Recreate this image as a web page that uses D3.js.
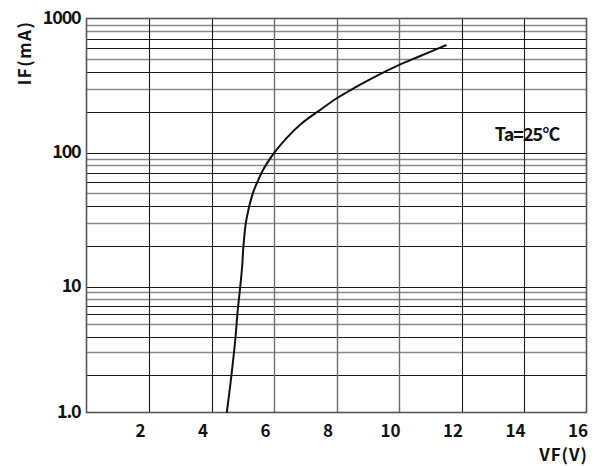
<!DOCTYPE html>
<html>
<head>
<meta charset="utf-8">
<script src="https://cdn.jsdelivr.net/npm/d3@7"></script>
<style>
  body { margin: 0; background: #fff; }
  text { font-family: "Noto Sans CJK SC", "Noto Sans", sans-serif; fill: #111; }
</style>
</head>
<body>
<div id="chart"></div>
<script>
  // forward voltage (V) vs forward current (mA)
  var vfValues = [4.49, 4.62, 4.76, 4.83, 4.92, 4.98, 5.02, 5.10, 5.18, 5.26, 5.37, 5.50, 5.64, 5.79, 6.03, 6.40, 6.89, 7.48, 8.01, 8.60, 9.30, 9.99, 10.68, 11.52];
  var ifValues = [1.0, 1.81, 3.76, 6.1, 10, 14, 19.8, 29.9, 37.2, 44.3, 53.3, 62.5, 73.4, 84, 101, 128, 165, 208, 254, 306, 375, 449, 525, 634];

  var vfTicks = [2, 4, 6, 8, 10, 12, 14, 16];
  var ifTicks = [1, 10, 100, 1000];
  var ifTickLabels = ["1.0", "10", "100", "1000"];
  var decades = [1, 10, 100];
  var mantissas = [2, 3, 4, 5, 6, 7, 8, 9];
  var grayMantissas = [3, 5, 8, 9];
  var grayVf = [6, 8, 10];

  var width = 603,
      height = 466;

  var svg = d3.select("#chart").append("svg")
      .attr("width", width)
      .attr("height", height);

  var x = d3.scaleLinear()
      .domain([0, 16])
      .range([86.5, 586.5]);

  // the printed decades are not quite equal, so map each one separately
  var y = d3.scaleLog()
      .domain([1, 10, 100, 1000])
      .range([412.5, 286.5, 152.5, 18.5]);

  var grid = svg.append("g").attr("class", "grid");

  var minor = [];
  decades.forEach(function(d) {
    mantissas.forEach(function(m) { minor.push({ v: d * m, gray: grayMantissas.indexOf(m) >= 0 }); });
  });

  grid.selectAll("line.h")
    .data(minor.concat(ifTicks.slice(1, 3).map(function(v) { return { v: v, gray: false }; })))
    .enter().append("line")
      .attr("class", "h")
      .attr("x1", x(0))
      .attr("x2", x(16))
      .attr("y1", function(d) { return Math.round(y(d.v)) + 0.5; })
      .attr("y2", function(d) { return Math.round(y(d.v)) + 0.5; })
      .attr("stroke", function(d) { return d.gray ? "#8a8a8a" : "#1a1a1a"; })
      .attr("stroke-width", function(d) { return d.gray ? 1.4 : 1.1; });

  grid.selectAll("line.v")
    .data(vfTicks.slice(0, -1))
    .enter().append("line")
      .attr("class", "v")
      .attr("x1", function(d) { return Math.round(x(d)) + 0.5; })
      .attr("x2", function(d) { return Math.round(x(d)) + 0.5; })
      .attr("y1", y(1000))
      .attr("y2", y(1))
      .attr("stroke", function(d) { return grayVf.indexOf(d) >= 0 ? "#6e6e6e" : "#1a1a1a"; })
      .attr("stroke-width", function(d) { return grayVf.indexOf(d) >= 0 ? 1.4 : 1.1; });

  // frame
  svg.append("rect")
      .attr("x", x(0))
      .attr("y", y(1000))
      .attr("width", x(16) - x(0))
      .attr("height", y(1) - y(1000))
      .attr("fill", "none")
      .attr("stroke", "#555")
      .attr("stroke-width", 1.6);

  // curve
  var line = d3.line()
      .x(function(d, i) { return x(vfValues[i]); })
      .y(function(d) { return y(d); })
      .curve(d3.curveCatmullRom.alpha(0.5));

  svg.append("path")
      .datum(ifValues)
      .attr("d", line)
      .attr("fill", "none")
      .attr("stroke", "#111")
      .attr("stroke-width", 2);

  // axes (labels only, the grid carries the lines)
  var xAxis = svg.append("g")
      .attr("transform", "translate(-9," + (y(1) + 6) + ")")
      .call(d3.axisBottom(x).tickValues(vfTicks).tickSize(0).tickPadding(0));
  xAxis.select(".domain").remove();
  xAxis.selectAll("text")
      .attr("dy", "1.1em")
      .style("font-size", "17px")
      .style("font-weight", "bold")
      .style("font-family", "'Noto Sans CJK SC', sans-serif")
      .attr("fill", "#111");

  var yAxis = svg.append("g")
      .attr("transform", "translate(" + (x(0) - 6) + ",-1)")
      .call(d3.axisLeft(y).tickValues(ifTicks).tickSize(0).tickPadding(0)
        .tickFormat(function(d, i) { return ifTickLabels[i]; }));
  yAxis.select(".domain").remove();
  yAxis.selectAll("text")
      .style("font-size", "18px")
      .style("font-weight", "bold")
      .style("letter-spacing", "-1.2px")
      .style("font-family", "'Noto Sans CJK SC', sans-serif")
      .attr("fill", "#111");

  svg.append("text")
      .attr("transform", "translate(31,53) rotate(-90)")
      .attr("text-anchor", "middle")
      .style("font-size", "17px")
      .style("font-weight", "bold")
      .style("letter-spacing", "1.5px")
      .text("IF(mA)");

  svg.append("text")
      .attr("x", 588)
      .attr("y", 461)
      .attr("text-anchor", "end")
      .style("font-size", "17px")
      .style("font-weight", "bold")
      .style("letter-spacing", "1px")
      .text("VF(V)");

  svg.append("text")
      .attr("x", 527)
      .attr("y", 141)
      .attr("text-anchor", "middle")
      .style("font-size", "18px")
      .style("font-weight", "bold")
      .style("letter-spacing", "-1px")
      .text("Ta=25°C");
</script>
</body>
</html>
